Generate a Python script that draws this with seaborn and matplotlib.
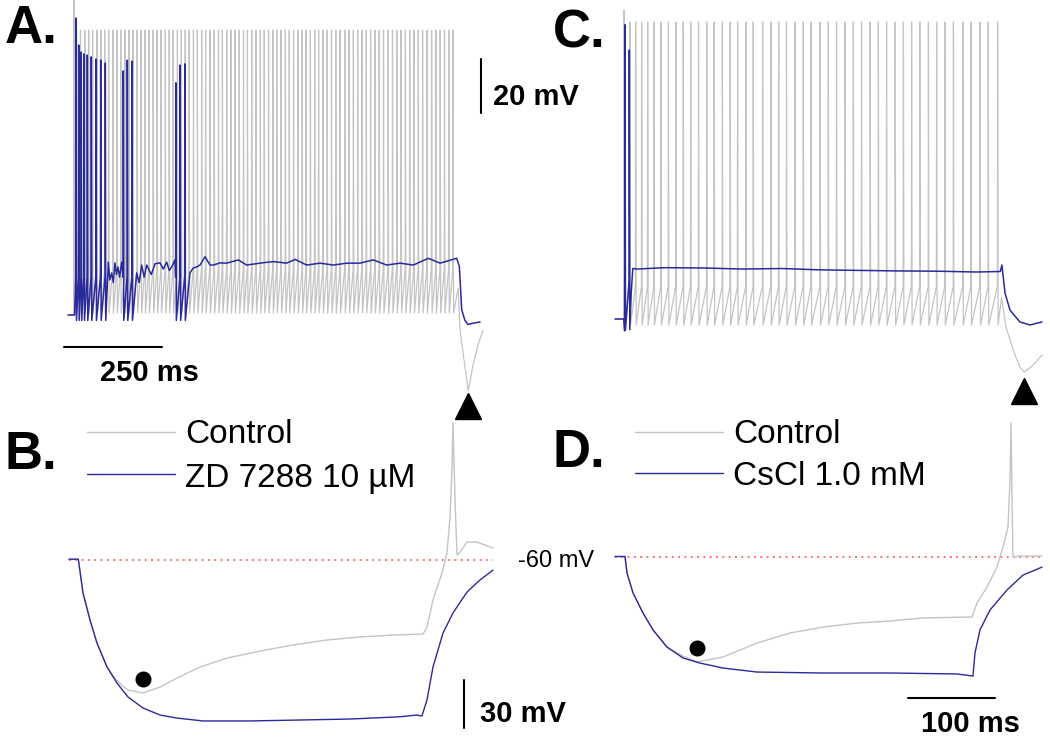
import numpy as np
import pandas as pd
import matplotlib.pyplot as plt
import seaborn as sns
from matplotlib.lines import Line2D

sns.set_style("white")
plt.rcParams['font.family'] = ['Liberation Sans', 'DejaVu Sans']
plt.rcParams['text.color'] = 'black'

GRAY = '#c4c4c4'
BLUE = '#2a2a9c'
RED = '#ff5a5a'

# ---------------- A : control vs ZD 7288, 1 s depolarizing step ----------------
# spike times (ms from step onset)
a_ctrl_spikes = [-2.5, 4, 14, 25, 35, 45, 56, 66, 76, 86, 97, 107, 117, 128, 138, 148, 159,
                 169, 179, 189, 200, 210, 220, 231, 241, 251, 262, 272, 282, 292, 303, 313,
                 324, 334, 345, 356, 367, 377, 388, 399, 409, 420, 431, 441, 452, 463, 474,
                 484, 495, 506, 516, 527, 538, 548, 559, 570, 581, 591, 602, 613, 623, 634,
                 645, 656, 667, 678, 690, 701, 712, 723, 734, 745, 756, 767, 778, 789, 801,
                 812, 823, 834, 845, 856, 867, 878, 889, 900, 912, 923, 934, 945, 956, 967]
a_ctrl_peak_first = 56.7
a_ctrl_peak = 45.5
a_ctrl_thr = -43.0
a_ctrl_trough = -59.3
a_ctrl_pre_t = [-17.9, -3.6]
a_ctrl_pre_v = [-60.0, -60.0]
a_ctrl_post_t = [980, 984.7, 994.9, 1005.9, 1017.9, 1030.7, 1043.5]
a_ctrl_post_v = [-50.0, -65.6, -76.7, -88.1, -78.5, -71.1, -65.6]

a_zd_spikes = [2.6, 9.5, 16, 23, 31.5, 41.7, 53.7, 65.7, 77.5, 123.5, 133.8, 145.8, 258, 269, 281]
a_zd_peaks = [50, 40, 37.4, 36.7, 36.3, 35.6, 34.8, 34.4, 33.3, 30.4, 34.4, 34, 26, 32.6, 33]
a_zd_thr = -46.0
a_zd_trough = -62.0
a_zd_sub_t = [-17.9, -1.0,
              85.2, 89, 93.9, 98, 102.3, 106, 110, 114, 119.4,
              157.8, 164, 170.6, 177, 183.4, 195, 205, 217.4, 226, 234.5, 241, 247.3, 255.8,
              294, 302.6, 311.3, 319.7, 332.5, 345.3, 353.8, 370.8, 387.9, 417.8, 439, 473,
              507, 541, 562.7, 592.5, 626.6, 660.7, 694.8, 728.9, 763, 797.2, 831.2, 865.3,
              903.7, 933.5, 976.2, 983, 989, 997, 1005, 1019, 1036]
a_zd_sub_v = [-60, -60,
              -40.4, -47, -44.4, -48, -40.7, -45, -42.2, -46, -40.4,
              -44.4, -48, -41.5, -46, -41.5, -45, -41, -40.7, -43, -40.4, -43.5, -42.2, -39.6,
              -44.4, -42.6, -42.2, -41.5, -38.4, -41.5, -41.5, -40.7, -40.8, -39.6, -41.5, -40.8,
              -40.2, -40.8, -39.4, -41.5, -40.8, -41.5, -40.8, -40.8, -39.6, -41.5, -40.8, -41.5,
              -39.0, -40.8, -39.0, -42, -58, -61.9, -63.5, -63, -62.6]

# ---------------- C : control vs CsCl, 1 s depolarizing step ----------------
c_ctrl_spikes = [-2.6, 12.8, 27.3, 42.6, 58, 74.2, 92, 111, 130, 149, 168, 188, 209, 228, 249,
                 269, 288, 309, 328, 352, 373, 393, 413, 435, 456, 476, 499, 520, 541, 563,
                 584, 605, 627, 648, 669, 691, 712, 733, 754, 776, 797, 818, 840, 864, 885,
                 908, 929, 953]
c_ctrl_peak_first = 54.4
c_ctrl_peak = 50.0
c_ctrl_thr = -48.0
c_ctrl_trough = -62.2
c_ctrl_pre_t = [-25.6, -3.6]
c_ctrl_pre_v = [-60.0, -60.0]
c_ctrl_post_t = [963, 974.4, 984.7, 997.4, 1010.2, 1020.5, 1035.8, 1051, 1066.5]
c_ctrl_post_v = [-52.0, -63.0, -67.8, -73.3, -77.8, -79.6, -78.1, -75.9, -73.3]

c_cs_spikes = [0.0, 11.0]
c_cs_peaks = [49.0, 39.6]
c_cs_thr = -46.0
c_cs_trough = -64.0
c_cs_sub_t = [-25.6, -3.0, -1.0, 16, 20, 30, 100, 200, 300, 400, 500, 600, 700, 800, 900,
              960, 964, 971.9, 984.7, 1010, 1035.8, 1066.5]
c_cs_sub_v = [-60, -60, -64.4, -50, -41.3, -41.5, -41.0, -41.1, -41.5, -41.3, -41.8, -42.0,
              -42.2, -42.3, -42.6, -42.4, -40.0, -50.4, -56.7, -61.1, -62.2, -61.1]

# ---------------- B : hyperpolarizing step, control vs ZD 7288 ----------------
b_zd_t = [-10.7, 0, 5.4, 13.4, 21.4, 32.9, 44.3, 56.9, 74.1, 93.6, 113.1, 142.9, 196.7, 254,
          311, 368, 388, 393.6, 399.4, 406.3, 417.8, 429.2, 445.3, 460.1, 475]
b_zd_v = [-59.5, -59.5, -80.6, -97.5, -111.9, -126.9, -136.9, -145.6, -152.5, -156.9, -158.8,
          -160.6, -160.6, -160.0, -159.4, -158.0, -156.9, -157.5, -147.5, -126.9, -105.6,
          -93.1, -80.0, -72.5, -66.3]
b_ctrl_t = [-10.7, 0, 5.4, 13.4, 21.4, 32.9, 44.3, 56.9, 74.1, 93.6, 113.1, 139.4, 170.3,
            208.1, 245.9, 284.9, 322.7, 360.5, 394.8, 399.4, 406.3, 416.6, 422.3, 425.8, 428.1,
            429.2, 431.5, 433.8, 437.3, 445.3, 456.8, 475]
b_ctrl_v = [-59.5, -59.5, -80.6, -97.5, -111.9, -126.9, -135.6, -141.3, -143.1, -139.4, -133.8,
            -126.9, -121.3, -116.9, -113.1, -110.0, -108.1, -106.9, -106.3, -101.9, -85.0,
            -68.1, -55.6, -33.1, -1.9, 25.6, -22.5, -56.9, -55.0, -48.8, -48.8, -52.5]

# ---------------- D : hyperpolarizing step, control vs CsCl ----------------
d_cs_t = [-11.5, 0, 2.3, 9.2, 20.6, 32.1, 48.1, 66.4, 85.9, 112.3, 151.2, 226.8, 303.6, 380.3,
          398.6, 400.9, 406.6, 418.1, 437.6, 455.9, 477.7]
d_cs_v = [-59.7, -59.7, -70.0, -82.5, -95.0, -105.6, -116.3, -123.1, -126.3, -129.4, -131.9,
          -132.5, -132.5, -133.1, -134.4, -120.0, -105.6, -93.1, -80.6, -71.3, -66.3]
d_ctrl_t = [-11.5, 0, 2.3, 9.2, 20.6, 32.1, 48.1, 66.4, 82.5, 112.3, 151.2, 189, 226.8, 265.7,
            303.6, 341.4, 397.5, 403.2, 414.7, 426.1, 433, 438.7, 441, 442.2, 443.3, 444.4,
            452.5, 477.7]
d_ctrl_v = [-59.7, -59.7, -70.0, -82.5, -95.0, -105.6, -116.3, -121.9, -125.6, -122.5, -113.8,
            -107.5, -103.8, -101.3, -100.0, -98.1, -97.5, -88.8, -78.8, -66.3, -53.8, -41.3,
            -11.9, 23.8, -24.4, -60.0, -59.4, -59.4]

W, H = 1050, 742
fig = plt.figure(figsize=(W / 100, H / 100), dpi=100)


def panel_axes(x0, y0, sx, sy, v0=-60.0):
    # full-figure transparent axes; (x0, y0) is the pixel of t=0 / v=v0, sx px per ms, sy px per mV
    ax = fig.add_axes([0, 0, 1, 1])
    return ax, (-x0 / sx, (W - x0) / sx), (v0 - (H - y0) / sy, v0 + y0 / sy)


def finish(ax, xl, yl):
    ax.set_xlim(*xl)
    ax.set_ylim(*yl)
    ax.set_axis_off()


def train(spikes, peaks, thr, trough):
    t, v = [], []
    for s, p in zip(spikes, peaks):
        t += [s - 0.6, s, s + 1.2]
        v += [thr, p, trough]
    return t, v


def trace(ax, t, v, color, lw):
    df = pd.DataFrame({'t': t, 'v': v})
    sns.lineplot(data=df, x='t', y='v', ax=ax, sort=False, estimator=None,
                 color=color, lw=lw, legend=False)


def ftext(x, y, s, **kw):
    fig.text(x / W, 1 - y / H, s, va='baseline', color='black', **kw)


# ---- panel A ----
axA, xlA, ylA = panel_axes(75, 315, 0.391, 2.7)
tt, vv = train(a_ctrl_spikes, [a_ctrl_peak_first] + [a_ctrl_peak] * (len(a_ctrl_spikes) - 1),
               a_ctrl_thr, a_ctrl_trough)
trace(axA, a_ctrl_pre_t + tt + a_ctrl_post_t, a_ctrl_pre_v + vv + a_ctrl_post_v, GRAY, 0.9)
tt, vv = train(a_zd_spikes, a_zd_peaks, a_zd_thr, a_zd_trough)
ts = np.array(a_zd_sub_t + tt)
vs = np.array(a_zd_sub_v + vv)
order = np.argsort(ts, kind='stable')
trace(axA, ts[order], vs[order], BLUE, 1.1)
axA.plot([-28, 222], [-71.9, -71.9], color='black', lw=1.5)
axA.plot([1038, 1038], [14.8, 34.8], color='black', lw=1.5)
i = int(np.argmin(a_ctrl_post_v))
axA.plot(a_ctrl_post_t[i], a_ctrl_post_v[i] - 5.5, marker='^', ms=19, color='black')
finish(axA, xlA, ylA)

# ---- panel C ----
axC, xlC, ylC = panel_axes(625, 319, 0.391, 2.7)
tt, vv = train(c_ctrl_spikes, [c_ctrl_peak_first] + [c_ctrl_peak] * (len(c_ctrl_spikes) - 1),
               c_ctrl_thr, c_ctrl_trough)
trace(axC, c_ctrl_pre_t + tt + c_ctrl_post_t, c_ctrl_pre_v + vv + c_ctrl_post_v, GRAY, 0.9)
tt, vv = train(c_cs_spikes, c_cs_peaks, c_cs_thr, c_cs_trough)
ts = np.array(c_cs_sub_t + tt)
vs = np.array(c_cs_sub_v + vv)
order = np.argsort(ts, kind='stable')
trace(axC, ts[order], vs[order], BLUE, 1.1)
i = int(np.argmin(c_ctrl_post_v))
axC.plot(c_ctrl_post_t[i], c_ctrl_post_v[i] - 7, marker='^', ms=19, color='black')
finish(axC, xlC, ylC)

# ---- panel B ----
axB, xlB, ylB = panel_axes(78.3, 560, 0.873, 1.6)
axB.plot([b_zd_t[0], b_zd_t[-1]], [-60, -60], color=RED, lw=1.3, ls=(0, (1, 2.5)))
trace(axB, b_ctrl_t, b_ctrl_v, GRAY, 1.0)
trace(axB, b_zd_t, b_zd_v, BLUE, 1.0)
axB.plot([441.8, 441.8], [-165, -135], color='black', lw=1.5)
i = int(np.argmin(b_ctrl_v))
axB.plot(b_ctrl_t[i], b_ctrl_v[i] + 8.7, marker='o', ms=10.5, color='black')
finish(axB, xlB, ylB)

# ---- panel D ----
axD, xlD, ylD = panel_axes(625, 557, 0.873, 1.6)
axD.plot([d_cs_t[0], d_cs_t[-1]], [-60, -60], color=RED, lw=1.3, ls=(0, (1, 2.5)))
trace(axD, d_ctrl_t, d_ctrl_v, GRAY, 1.0)
trace(axD, d_cs_t, d_cs_v, BLUE, 1.0)
axD.plot([324.2, 424.2], [-148.1, -148.1], color='black', lw=1.5)
i = int(np.argmin(d_ctrl_v))
axD.plot(d_ctrl_t[i], d_ctrl_v[i] + 8.7, marker='o', ms=10.5, color='black')
finish(axD, xlD, ylD)

# ---- legends ----
for x0, y_c, y_b in [(87, 432, 474), (635, 432, 473)]:
    fig.add_artist(Line2D([x0 / W, (x0 + 88) / W], [1 - y_c / H] * 2, color=GRAY, lw=1.0))
    fig.add_artist(Line2D([x0 / W, (x0 + 88) / W], [1 - y_b / H] * 2, color=BLUE, lw=1.0))
ftext(185, 443, 'Control', fontsize=24)
ftext(185, 487, 'ZD 7288 10 \u00b5M', fontsize=24)
ftext(733, 443, 'Control', fontsize=24)
ftext(733, 485, 'CsCl 1.0 mM', fontsize=24)

# ---- labels ----
ftext(5, 43, 'A.', fontsize=38, fontweight='bold')
ftext(5, 469, 'B.', fontsize=38, fontweight='bold')
ftext(553, 48, 'C.', fontsize=38, fontweight='bold')
ftext(553, 467, 'D.', fontsize=38, fontweight='bold')
ftext(493, 105, '20 mV', fontsize=21, fontweight='bold')
ftext(100, 381, '250 ms', fontsize=21, fontweight='bold')
ftext(480, 722, '30 mV', fontsize=21, fontweight='bold')
ftext(921, 732, '100 ms', fontsize=21, fontweight='bold')
ftext(518, 567, '-60 mV', fontsize=17)

fig.savefig('out.png', dpi=100)
